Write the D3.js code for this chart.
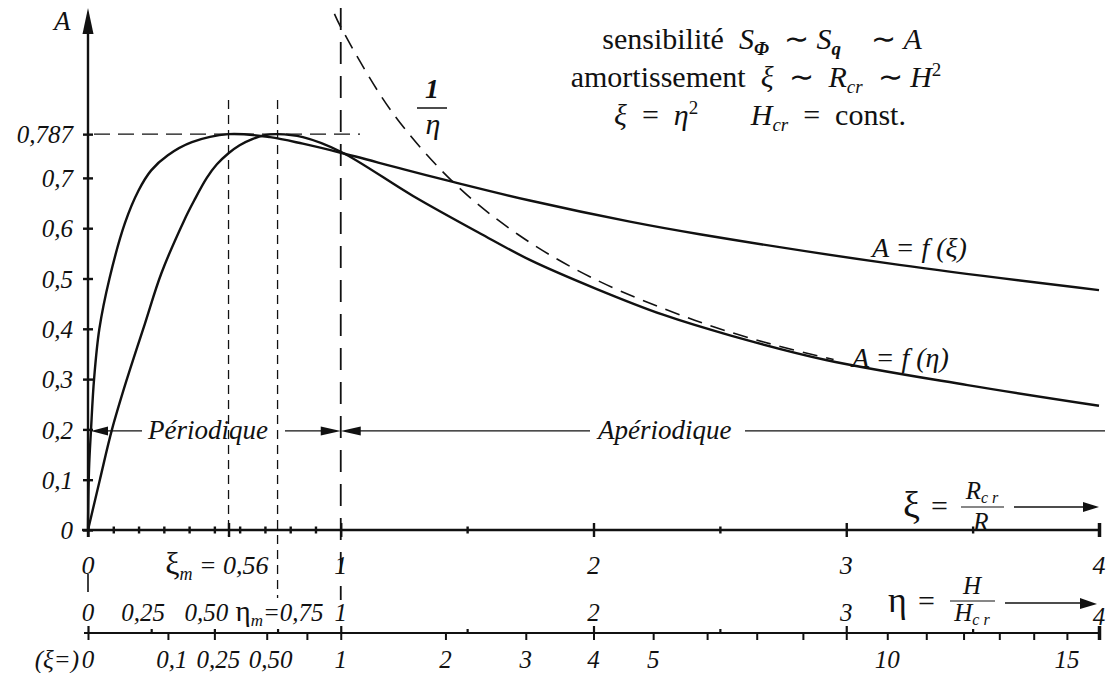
<!DOCTYPE html>
<html>
<head>
<meta charset="utf-8">
<script src="https://cdn.jsdelivr.net/npm/d3@7/dist/d3.min.js"></script>
</head>
<body style="margin:0;background:#fff">
<svg id="fig" width="1114" height="673"></svg>
<script>
// valeurs
var xiCourbe  = [0, 0.004, 0.012, 0.024, 0.045, 0.085, 0.146, 0.2, 0.25, 0.316, 0.411, 0.556, 0.72, 0.85, 1.0, 1.25, 1.444, 1.748, 2.144, 2.42, 3.21, 4.0];
var aXi       = [0, 0.12, 0.2, 0.3, 0.4, 0.5, 0.61, 0.675, 0.715, 0.745, 0.771, 0.787, 0.781, 0.768, 0.75, 0.717, 0.692, 0.655, 0.613, 0.588, 0.527, 0.477];

var etaCourbe = [0, 0.047, 0.095, 0.154, 0.225, 0.29, 0.38, 0.42, 0.47, 0.51, 0.556, 0.6, 0.65, 0.7, 0.75, 0.85, 1.0, 1.286, 1.55, 1.748, 2.013, 2.275, 2.54, 2.92, 3.48, 4.0];
var aEta      = [0, 0.1, 0.2, 0.3, 0.41, 0.51, 0.615, 0.655, 0.70, 0.727, 0.749, 0.765, 0.777, 0.785, 0.787, 0.781, 0.752, 0.664, 0.59, 0.537, 0.479, 0.428, 0.387, 0.338, 0.288, 0.247];

// asymptote en tirets 1/eta
var etaInv = [0.975, 1.0, 1.2, 1.444, 1.7, 2.0, 2.4, 2.7, 2.95];
var aInv   = [1.026, 1.0, 0.833, 0.692, 0.588, 0.5, 0.417, 0.37, 0.339];

var yTicks  = [0, 0.1, 0.2, 0.3, 0.4, 0.5, 0.6, 0.7, 0.787];
var yLabels = ["0", "0,1", "0,2", "0,3", "0,4", "0,5", "0,6", "0,7", "0,787"];

var xiTicks  = [0, 0.1, 0.2, 0.3, 0.4, 0.5, 0.6, 0.7, 0.8, 0.9, 1, 1.5, 2, 2.5, 3, 3.5, 4];
var xiLabels = [1, 2, 3, 4];
var xiM = 0.556, etaM = 0.75, aMax = 0.787;

var etaTicks  = [0.25, 0.5, 0.75, 1, 1.5, 2, 2.5, 3, 3.5, 4];
var etaLabels = [[0.25, "0,25"], [0.5, "0,50"], [1, "1"], [2, "2"], [3, "3"], [4, "4"]];

var xiBasTicks  = [0.1, 0.25, 0.5, 0.75, 1, 2, 3, 4, 5, 6, 7, 8, 9, 10, 11, 12, 13, 14, 15, 16];
var xiBasLabels = [[0.1, "0,1"], [0.25, "0,25"], [0.5, "0,50"], [1, "1"], [2, "2"], [3, "3"], [4, "4"], [5, "5"], [10, "10"], [15, "15"]];

var svg = d3.select("#fig");

var x = d3.scaleLinear().domain([0, 4]).range([88, 1099]);
var xBas = d3.scaleSqrt().domain([0, 16]).range([88, 1099]); // xi = eta^2
var y = d3.scaleLinear().domain([0, 1]).range([530, 27]);

var yAxe = 530, yEta = 633;

// lignes de repere en tirets
function tiret(x1, y1, x2, y2, dash, w) {
  svg.append("line")
    .attr("x1", x1).attr("y1", y1).attr("x2", x2).attr("y2", y2)
    .attr("stroke", "#111").attr("stroke-width", w)
    .attr("stroke-dasharray", dash);
}
tiret(x(0) + 6, y(aMax), 360, y(aMax), "16,8", 1.4);
tiret(x(xiM), 100, x(xiM), yAxe + 6, "9,6", 1.3);
tiret(x(etaM), 100, x(etaM), 598, "9,6", 1.3);
tiret(x(1), 8, x(1), 600, "22,12", 1.8);
tiret(x(0), 574, x(0), 592, "18,0", 1.6);

// axe des A
svg.append("line").attr("x1", x(0)).attr("x2", x(0)).attr("y1", 537).attr("y2", 28)
  .attr("stroke", "#111").attr("stroke-width", 2.4);
svg.append("path").attr("d", "M" + x(0) + ",8 L" + (x(0) - 5.5) + ",34 L" + (x(0) + 5.5) + ",34 Z").attr("fill", "#111");
svg.append("text").attr("class", "it").attr("x", 54).attr("y", 30).attr("font-size", 27).text("A");

var gy = svg.append("g").attr("transform", "translate(" + x(0) + ",0)")
  .call(d3.axisLeft(y).tickValues(yTicks).tickSize(5).tickFormat(function(d, i) { return yLabels[i]; }));
gy.select(".domain").remove();
gy.selectAll(".tick line").attr("x1", 5).attr("x2", -5).attr("stroke-width", 2.4).attr("stroke", "#111");
gy.selectAll(".tick text").attr("class", "it").attr("x", -15).attr("dy", "0.35em")
  .attr("font-size", 25).attr("fill", "#111");

// axe des xi
svg.append("line").attr("x1", 82).attr("x2", x(4)).attr("y1", yAxe).attr("y2", yAxe)
  .attr("stroke", "#111").attr("stroke-width", 2.4);
var gx = svg.append("g").attr("transform", "translate(0," + yAxe + ")")
  .call(d3.axisBottom(x).tickValues(xiTicks.concat([xiM])).tickSize(4).tickFormat(""));
gx.select(".domain").remove();
gx.selectAll(".tick line").attr("y1", function(d) { return d % 1 === 0 || d === xiM ? -7 : -3.5; })
  .attr("y2", function(d) { return d % 1 === 0 || d === xiM ? 7 : 3.5; })
  .attr("stroke-width", function(d) { return d === 4 ? 3.5 : 2.4; }).attr("stroke", "#111");

svg.selectAll(".lxi").data(xiLabels).enter().append("text").attr("class", "it")
  .attr("x", function(d) { return x(d); }).attr("y", 574).attr("text-anchor", "middle")
  .attr("font-size", 26).text(function(d) { return d; });
svg.append("text").attr("class", "it").attr("x", x(0)).attr("y", 574).attr("text-anchor", "middle")
  .attr("font-size", 26).text("0");
var tm = svg.append("text").attr("x", x(xiM) + 40).attr("y", 574).attr("text-anchor", "end").attr("font-size", 26);
tm.append("tspan").attr("font-size", 32).text("ξ");
tm.append("tspan").attr("class", "it").attr("font-size", 18).attr("dy", 6).text("m");
tm.append("tspan").attr("class", "it").attr("dy", -6).text(" = 0,56");

// label xi = Rcr/R
svg.append("text").attr("x", 903).attr("y", 518).attr("font-size", 38).text("ξ");
svg.append("text").attr("x", 931).attr("y", 516).attr("font-size", 30).text("=");
var rcr = svg.append("text").attr("class", "it").attr("x", 982).attr("y", 499).attr("text-anchor", "middle").attr("font-size", 25);
rcr.append("tspan").text("R");
rcr.append("tspan").attr("font-size", 16).attr("dy", 4).text("c r");
svg.append("line").attr("x1", 961).attr("x2", 1004).attr("y1", 507).attr("y2", 507).attr("stroke", "#111").attr("stroke-width", 1.2);
svg.append("text").attr("class", "it").attr("x", 981).attr("y", 530).attr("text-anchor", "middle").attr("font-size", 25).text("R");
svg.append("line").attr("x1", 1014).attr("x2", 1085).attr("y1", 507).attr("y2", 507).attr("stroke", "#111").attr("stroke-width", 1.5);
svg.append("path").attr("d", "M1099,507 L1083,502 L1083,512 Z").attr("fill", "#111");

// axe des eta (et xi = eta^2 en dessous)
svg.append("line").attr("x1", 84).attr("x2", x(4)).attr("y1", yEta).attr("y2", yEta)
  .attr("stroke", "#111").attr("stroke-width", 2.2);
var ge = svg.append("g").attr("transform", "translate(0," + yEta + ")")
  .call(d3.axisTop(x).tickValues([0].concat(etaTicks)).tickSize(5).tickFormat(""));
ge.select(".domain").remove();
ge.selectAll(".tick line").attr("y2", function(d) { return d % 1 === 0 ? -7 : -4; })
  .attr("stroke-width", function(d) { return d === 4 ? 3.5 : 2.2; }).attr("stroke", "#111");
var gb = svg.append("g").attr("transform", "translate(0," + yEta + ")")
  .call(d3.axisBottom(xBas).tickValues([0].concat(xiBasTicks)).tickSize(7).tickFormat(""));
gb.select(".domain").remove();
gb.selectAll(".tick line").attr("stroke-width", function(d) { return d === 16 ? 3.5 : 2; }).attr("stroke", "#111");

svg.append("text").attr("class", "it").attr("x", x(0)).attr("y", 621).attr("text-anchor", "middle").attr("font-size", 25).text("0");
svg.selectAll(".leta").data(etaLabels).enter().append("text").attr("class", "it")
  .attr("x", function(d) { return d[0] < 1 ? x(d[0]) - 8 : x(d[0]); })
  .attr("y", function(d) { return d[0] === 4 ? 625 : 621; })
  .attr("text-anchor", "middle").attr("font-size", 25).text(function(d) { return d[1]; });
var te = svg.append("text").attr("x", x(etaM) + 46).attr("y", 621).attr("text-anchor", "end").attr("font-size", 25);
te.append("tspan").attr("font-size", 29).text("η");
te.append("tspan").attr("class", "it").attr("font-size", 17).attr("dy", 5).text("m");
te.append("tspan").attr("class", "it").attr("dy", -5).text("=0,75");

svg.append("text").attr("class", "it").attr("x", 79).attr("y", 668).attr("text-anchor", "end").attr("font-size", 25).text("(ξ=)");
svg.append("text").attr("class", "it").attr("x", xBas(0)).attr("y", 668).attr("text-anchor", "middle").attr("font-size", 25).text("0");
svg.selectAll(".lbas").data(xiBasLabels).enter().append("text").attr("class", "it")
  .attr("x", function(d) { return xBas(d[0]) + (d[0] < 1 ? 4 : 0); }).attr("y", 668)
  .attr("text-anchor", "middle").attr("font-size", 25).text(function(d) { return d[1]; });

// label eta = H/Hcr
svg.append("text").attr("x", 888).attr("y", 612).attr("font-size", 36).text("η");
svg.append("text").attr("x", 918).attr("y", 611).attr("font-size", 30).text("=");
svg.append("text").attr("class", "it").attr("x", 972).attr("y", 594).attr("text-anchor", "middle").attr("font-size", 25).text("H");
svg.append("line").attr("x1", 950).attr("x2", 995).attr("y1", 601).attr("y2", 601).attr("stroke", "#111").attr("stroke-width", 1.2);
var hcr = svg.append("text").attr("class", "it").attr("x", 972).attr("y", 621).attr("text-anchor", "middle").attr("font-size", 25);
hcr.append("tspan").text("H");
hcr.append("tspan").attr("font-size", 16).attr("dy", 4).text("c r");
svg.append("line").attr("x1", 1005).attr("x2", 1080).attr("y1", 603).attr("y2", 603).attr("stroke", "#111").attr("stroke-width", 1.5);
svg.append("path").attr("d", "M1097,604 L1080,598 L1080,609 Z").attr("fill", "#111");

// courbes
var ligne = d3.line().x(function(d) { return x(d[0]); }).y(function(d) { return y(d[1]); }).curve(d3.curveCatmullRom.alpha(0.5));
svg.append("path").datum(d3.zip(xiCourbe, aXi)).attr("d", ligne)
  .attr("fill", "none").attr("stroke", "#111").attr("stroke-width", 2.4);
svg.append("path").datum(d3.zip(etaCourbe, aEta)).attr("d", ligne)
  .attr("fill", "none").attr("stroke", "#111").attr("stroke-width", 2.4);
svg.append("path").datum(d3.zip(etaInv, aInv)).attr("d", ligne)
  .attr("fill", "none").attr("stroke", "#111").attr("stroke-width", 1.6).attr("stroke-dasharray", "15,9");

svg.append("text").attr("class", "it").attr("x", 872).attr("y", 257).attr("font-size", 28).text("A = f (ξ)");
svg.append("text").attr("class", "it").attr("x", 852).attr("y", 367).attr("font-size", 28).text("A = f (η)");

// 1/eta
svg.append("text").attr("class", "it").attr("x", 432).attr("y", 98).attr("text-anchor", "middle")
  .attr("font-size", 28).attr("font-weight", "bold").text("1");
svg.append("line").attr("x1", 417).attr("x2", 447).attr("y1", 108).attr("y2", 108).attr("stroke", "#111").attr("stroke-width", 1.5);
svg.append("text").attr("class", "it").attr("x", 433).attr("y", 134).attr("text-anchor", "middle").attr("font-size", 30).text("η");

// periodique / aperiodique
var yp = y(0.197);
svg.append("path").attr("d", "M" + (x(0) + 3) + "," + yp + " L" + (x(0) + 20) + "," + (yp - 4.5) + " L" + (x(0) + 20) + "," + (yp + 4.5) + " Z").attr("fill", "#111");
svg.append("line").attr("x1", x(0) + 18).attr("x2", 142).attr("y1", yp).attr("y2", yp).attr("stroke", "#111").attr("stroke-width", 1.4);
svg.append("text").attr("class", "it").attr("x", 148).attr("y", yp + 8).attr("font-size", 27).text("Périodique");
svg.append("line").attr("x1", 285).attr("x2", x(1) - 18).attr("y1", yp).attr("y2", yp).attr("stroke", "#111").attr("stroke-width", 1.4);
svg.append("path").attr("d", "M" + x(1) + "," + yp + " L" + (x(1) - 20) + "," + (yp - 4.5) + " L" + (x(1) - 20) + "," + (yp + 4.5) + " Z").attr("fill", "#111");
svg.append("path").attr("d", "M" + x(1) + "," + yp + " L" + (x(1) + 20) + "," + (yp - 4.5) + " L" + (x(1) + 20) + "," + (yp + 4.5) + " Z").attr("fill", "#111");
svg.append("line").attr("x1", x(1) + 18).attr("x2", 590).attr("y1", yp).attr("y2", yp).attr("stroke", "#111").attr("stroke-width", 1.4);
svg.append("text").attr("class", "it").attr("x", 598).attr("y", yp + 8).attr("font-size", 27).text("Apériodique");
svg.append("line").attr("x1", 745).attr("x2", 1105).attr("y1", yp).attr("y2", yp).attr("stroke", "#111").attr("stroke-width", 1.4);

// bloc de texte en haut a droite
var bloc = svg.append("g").attr("font-size", 30);
var l1 = bloc.append("text").attr("x", 762).attr("y", 49).attr("text-anchor", "middle").attr("xml:space", "preserve");
l1.append("tspan").text("sensibilité  ");
l1.append("tspan").attr("class", "it").text("S");
l1.append("tspan").attr("class", "it").attr("font-weight", "bold").attr("font-size", 19).attr("dy", 6).text("Φ");
l1.append("tspan").attr("dy", -6).text("  ∼ ");
l1.append("tspan").attr("class", "it").text("S");
l1.append("tspan").attr("class", "it").attr("font-weight", "bold").attr("font-size", 19).attr("dy", 6).text("q");
l1.append("tspan").attr("dy", -6).text("    ∼ ");
l1.append("tspan").attr("class", "it").text("A");

var l2 = bloc.append("text").attr("x", 756).attr("y", 87).attr("text-anchor", "middle").attr("xml:space", "preserve");
l2.append("tspan").text("amortissement  ");
l2.append("tspan").attr("class", "it").text("ξ");
l2.append("tspan").text("  ∼  ");
l2.append("tspan").attr("class", "it").text("R");
l2.append("tspan").attr("class", "it").attr("font-size", 19).attr("dy", 6).text("cr");
l2.append("tspan").attr("dy", -6).text("  ∼ ");
l2.append("tspan").attr("class", "it").text("H");
l2.append("tspan").attr("font-size", 19).attr("dy", -11).text("2");

var l3 = bloc.append("text").attr("x", 760).attr("y", 125).attr("text-anchor", "middle").attr("xml:space", "preserve");
l3.append("tspan").attr("class", "it").text("ξ");
l3.append("tspan").text("  =  ");
l3.append("tspan").attr("class", "it").text("η");
l3.append("tspan").attr("font-size", 19).attr("dy", -11).text("2");
l3.append("tspan").attr("dy", 11).text("       ");
l3.append("tspan").attr("class", "it").text("H");
l3.append("tspan").attr("class", "it").attr("font-size", 19).attr("dy", 6).text("cr");
l3.append("tspan").attr("dy", -6).text("  =  const.");

// police serif en style direct
svg.selectAll("text").style("font-family", "'Liberation Serif'").style("fill", "#111");
svg.selectAll(".it").style("font-style", "italic");
</script>
</body>
</html>
